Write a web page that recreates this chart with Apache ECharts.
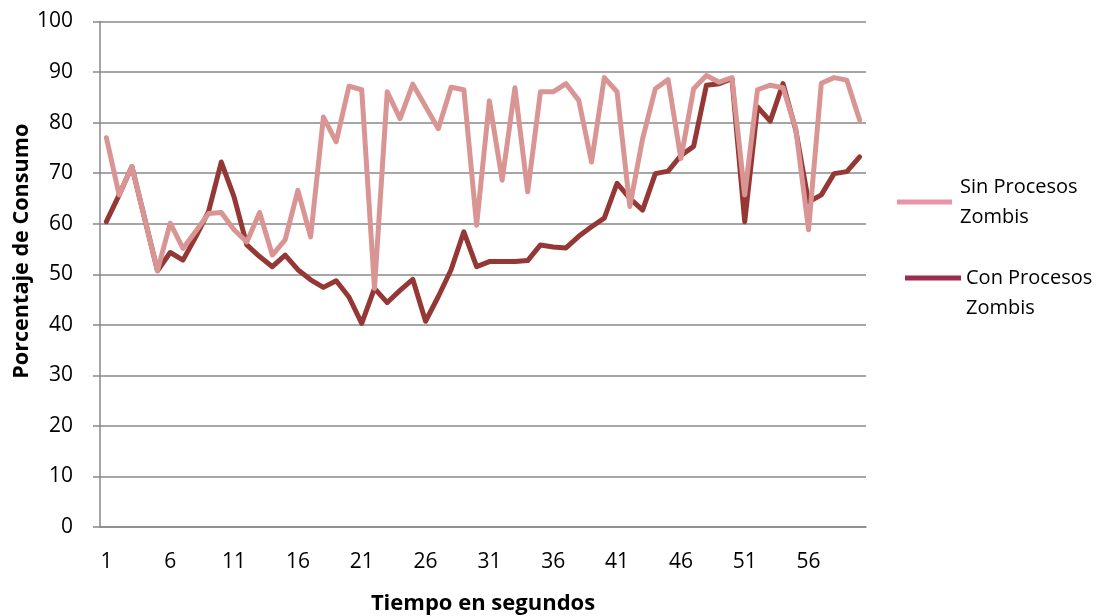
<!DOCTYPE html>
<html>
<head>
<meta charset="utf-8">
<script src="https://cdn.jsdelivr.net/npm/echarts@6/dist/echarts.min.js"></script>
<style>html,body{margin:0;padding:0;background:#fff;}#c{width:1103px;height:616px;}</style>
</head>
<body>
<div id="c"></div>
<script>
var categories = [];
for (var k = 1; k <= 60; k++) categories.push(String(k));

var sinProcesos = [77.0, 65.7, 71.3, 61.0, 50.7, 60.1, 55.1, 58.5, 62.0, 62.2,
  58.8, 56.4, 62.2, 53.8, 56.8, 66.6, 57.4, 81.1, 76.2, 87.2,
  86.5, 47.2, 86.1, 80.8, 87.6, 83.2, 78.8, 87.0, 86.5, 59.7,
  84.3, 68.6, 86.9, 66.3, 86.1, 86.1, 87.7, 84.4, 72.2, 88.9,
  86.1, 63.4, 76.8, 86.7, 88.5, 72.9, 86.7, 89.3, 88.0, 88.9,
  65.7, 86.5, 87.4, 86.9, 78.8, 58.8, 87.8, 88.9, 88.4, 80.5];

var conProcesos = [60.4, 65.7, 71.3, 61.0, 50.7, 54.3, 52.8, 57.4, 62.4, 72.2,
  65.3, 55.8, 53.5, 51.5, 53.8, 50.9, 48.9, 47.4, 48.7, 45.5,
  40.3, 47.2, 44.4, 46.8, 49.0, 40.7, 45.6, 50.9, 58.4, 51.5,
  52.5, 52.5, 52.5, 52.7, 55.8, 55.4, 55.2, 57.5, 59.4, 61.1,
  68.0, 65.0, 62.7, 69.9, 70.4, 73.5, 75.3, 87.4, 87.7, 88.7,
  60.4, 83.1, 80.3, 87.7, 78.5, 64.3, 65.7, 69.9, 70.3, 73.2];

var seriesNames = ['Sin Procesos Zombis', 'Con Procesos Zombis'];
var legendLabels = ['Sin Procesos\nZombis', '\u00a0\nCon Procesos\nZombis'];

var FONT = 'Open Sans';
var chart = echarts.init(document.getElementById('c'));
chart.setOption({
  animation: false,
  backgroundColor: '#ffffff',
  textStyle: { fontFamily: FONT },
  grid: { left: 100, right: 237, top: 21.5, bottom: 89, containLabel: false, outerBoundsMode: 'none' },
  legend: [
    {
      left: 897, top: 172, orient: 'vertical', padding: 0,
      icon: 'rect', itemWidth: 55, itemHeight: 5,
      data: [{ name: seriesNames[0], itemStyle: { color: '#EC93AA' } }],
      formatter: function () { return legendLabels[0]; },
      textStyle: { fontFamily: FONT, fontSize: 20, color: '#000', lineHeight: 30, padding: [0, 0, 0, 3] }
    },
    {
      left: 905, top: 233, orient: 'vertical', padding: 0,
      icon: 'rect', itemWidth: 56, itemHeight: 5,
      data: [{ name: seriesNames[1], itemStyle: { color: '#9B2C4E' } }],
      formatter: function () { return legendLabels[1]; },
      textStyle: { fontFamily: FONT, fontSize: 20, color: '#000', lineHeight: 30 }
    }
  ],
  xAxis: {
    type: 'category',
    data: categories,
    boundaryGap: true,
    name: 'Tiempo en segundos',
    nameLocation: 'middle',
    nameGap: 66,
    nameMoveOverlap: false,
    nameTextStyle: { fontFamily: FONT, fontSize: 22, fontWeight: 'bold', color: '#000' },
    axisLine: { lineStyle: { color: '#888888', width: 1.5 } },
    axisTick: { show: false },
    axisLabel: { interval: 4, margin: 25, fontFamily: FONT, fontSize: 21, color: '#000' },
    splitLine: { show: false }
  },
  yAxis: {
    type: 'value',
    min: 0, max: 100, interval: 10,
    name: 'Porcentaje de Consumo',
    nameLocation: 'middle',
    nameGap: 67,
    nameMoveOverlap: false,
    nameTextStyle: { fontFamily: FONT, fontSize: 21.6, fontWeight: 'bold', color: '#000', padding: [0, 0, 0, 46] },
    axisLine: { show: true, lineStyle: { color: '#888888', width: 1.5 } },
    axisTick: { show: true, length: 7, lineStyle: { color: '#888888', width: 1.5 } },
    axisLabel: { margin: 27, fontFamily: FONT, fontSize: 21, color: '#000' },
    splitLine: { lineStyle: { color: '#888888', width: 1.5 } }
  },
  series: [
    {
      name: seriesNames[1], type: 'line', data: conProcesos,
      showSymbol: false, symbol: 'none', smooth: false,
      lineStyle: { color: '#953735', width: 5, join: 'round', cap: 'round' },
      itemStyle: { color: '#9B2C4E' }
    },
    {
      name: seriesNames[0], type: 'line', data: sinProcesos,
      showSymbol: false, symbol: 'none', smooth: false,
      lineStyle: { color: '#D99594', width: 5, join: 'round', cap: 'round' },
      itemStyle: { color: '#EC93AA' }
    }
  ]
});
</script>
</body>
</html>
